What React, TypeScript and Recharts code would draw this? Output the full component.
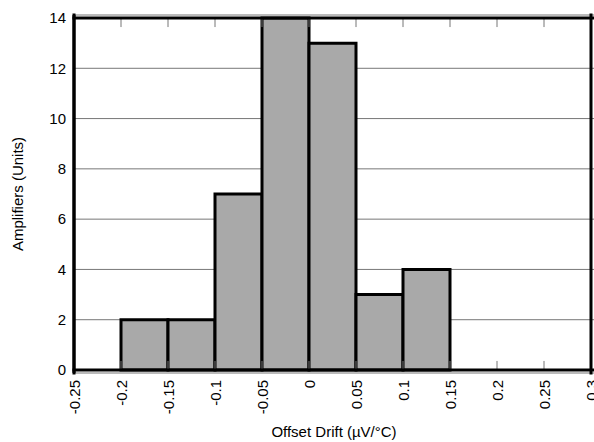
import { Bar, CartesianGrid, ComposedChart, ReferenceLine, XAxis, YAxis } from "recharts";

// histogram bins, 0.05 µV/°C wide, given by their lower edge
const binStarts = [-0.25, -0.2, -0.15, -0.1, -0.05, 0, 0.05, 0.1, 0.15, 0.2, 0.25];
const binCounts = [0, 2, 2, 7, 14, 13, 3, 4, 0, 0, 0];

const xTicks = [-0.25, -0.2, -0.15, -0.1, -0.05, 0, 0.05, 0.1, 0.15, 0.2, 0.25, 0.3];
const xTickLabels = ["-0.25", "-0.2", "-0.15", "-0.1", "-0.05", "0", "0.05", "0.1", "0.15", "0.2", "0.25", "0.3"];
const innerTicks = [-0.2, -0.15, -0.1, -0.05, 0, 0.05, 0.1, 0.15, 0.2, 0.25];
const yTicks = [0, 2, 4, 6, 8, 10, 12, 14];

const X_MIN = -0.25;
const X_MAX = 0.3;
const Y_MAX = 14;
// length of the inward frame ticks, in count units (about 9px)
const INNER_TICK_LEN = 0.36;

const data = binStarts.map((lo, i) => ({ bin: String(lo), lo, count: binCounts[i] }));

const FONT = "'Liberation Sans', Arial, Helvetica, sans-serif";
const PAD = 3;
const TICK_MARGIN = 4;

type TickProps = { x?: number; y?: number; payload?: { value: number } };

// tick labels read bottom-to-top, hanging just under the frame
function RotatedTick({ x = 0, y = 0, payload }: TickProps) {
  const label = xTickLabels[xTicks.indexOf(payload?.value as number)] ?? "";
  return (
    <text
      x={x}
      y={y}
      transform={`rotate(-90, ${x}, ${y})`}
      textAnchor="end"
      dominantBaseline="central"
      fontSize={15}
      fill="#000"
    >
      {label}
    </text>
  );
}

const ids = { xAxisId: "labels", yAxisId: "left", ifOverflow: "visible" as const };
const frame = { ...ids, stroke: "#000", strokeWidth: 3, strokeLinecap: "square" as const };
const tickMark = { ...ids, stroke: "#777", strokeWidth: 1 };

export default function App() {
  return (
    <div style={{ position: "fixed", left: 0, top: 0, fontFamily: FONT, background: "#fff" }}>
      <ComposedChart
        width={594}
        height={442}
        data={data}
        margin={{ top: 15, right: 0, left: 0, bottom: 0 }}
        barCategoryGap={0}
      >
        <CartesianGrid xAxisId="labels" yAxisId="left" vertical={false} stroke="#777" />
        <XAxis xAxisId="bins" dataKey="bin" type="category" hide height={0} padding={{ left: 0, right: PAD }} />
        <XAxis
          xAxisId="labels"
          dataKey="lo"
          type="number"
          domain={[X_MIN, X_MAX]}
          ticks={xTicks}
          allowDataOverflow
          interval={0}
          height={69}
          padding={{ left: 0, right: PAD }}
          axisLine={false}
          tickLine={false}
          tickSize={0}
          tickMargin={TICK_MARGIN + PAD}
          tick={<RotatedTick />}
          label={{ value: "Offset Drift (µV/°C)", position: "insideBottom", offset: 5, fontSize: 15, fill: "#000" }}
        />
        <YAxis
          yAxisId="left"
          domain={[0, Y_MAX]}
          ticks={yTicks}
          interval={0}
          width={74}
          padding={{ top: PAD, bottom: PAD }}
          axisLine={{ stroke: "#000", strokeWidth: 3 }}
          tickLine={false}
          tickSize={0}
          tickMargin={8}
          tick={{ fontSize: 15, fill: "#000" }}
          label={{ value: "Amplifiers (Units)", angle: -90, position: "center", dx: -19, fontSize: 15, fill: "#000" }}
        />
        <Bar
          xAxisId="bins"
          yAxisId="left"
          dataKey="count"
          fill="#a9a9a9"
          stroke="#000"
          strokeWidth={3}
          isAnimationActive={false}
        />
        {/* short inward ticks on the bottom and top edges */}
        {innerTicks.map(v => (
          <ReferenceLine key={`b${v}`} {...tickMark} segment={[{ x: v, y: 0 }, { x: v, y: INNER_TICK_LEN }]} />
        ))}
        {innerTicks.map(v => (
          <ReferenceLine key={`t${v}`} {...tickMark} segment={[{ x: v, y: Y_MAX }, { x: v, y: Y_MAX - INNER_TICK_LEN }]} />
        ))}
        {/* plot frame */}
        <ReferenceLine {...frame} x={X_MIN} />
        <ReferenceLine {...frame} x={X_MAX} />
        <ReferenceLine {...frame} y={0} />
        <ReferenceLine {...frame} y={Y_MAX} />
      </ComposedChart>
    </div>
  );
}
